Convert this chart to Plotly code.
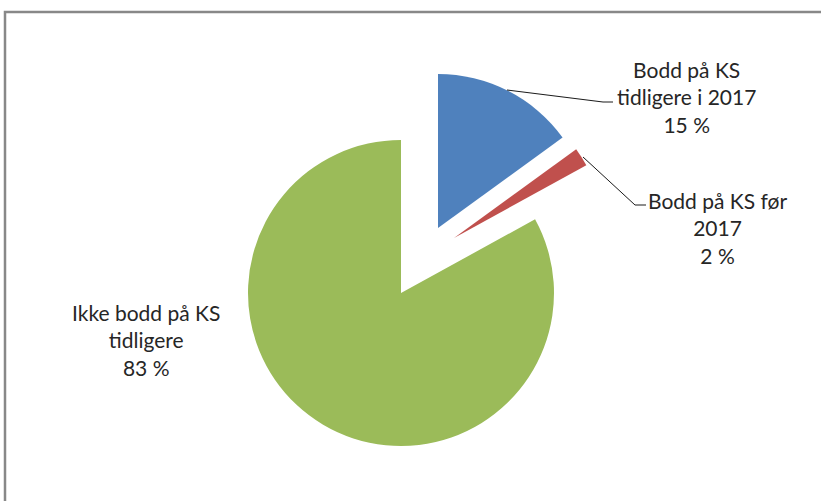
import plotly.graph_objects as go

W, H = 821, 501

labels = ["Bodd på KS tidligere i 2017", "Bodd på KS før 2017", "Ikke bodd på KS tidligere"]
values = [15, 2, 83]
colors = ["#4F81BD", "#C0504D", "#9BBB59"]
label_text = ["Bodd på KS<br>tidligere i 2017<br>15 %",
              "Bodd på KS før<br>2017<br>2 %",
              "Ikke bodd på KS<br>tidligere<br>83 %"]

# exploded slices: each slice drawn as its own pie, centre (px) and radius
centres = [(438, 228), (454, 238), (401, 293)]
radii = [154, 151, 153]


def dom(cx, cy, r):
    return dict(x=[(cx - r) / W, (cx + r) / W],
                y=[1 - (cy + r) / H, 1 - (cy - r) / H])


def px(x, y):
    return f"{x / W},{1 - y / H}"


fig = go.Figure()
for i in range(len(values)):
    cols = ["rgba(0,0,0,0)"] * len(values)
    cols[i] = colors[i]
    fig.add_trace(go.Pie(
        labels=labels, values=values, sort=False, direction="clockwise",
        rotation=0, marker=dict(colors=cols, line=dict(width=0)),
        textinfo="none", hoverinfo="skip", showlegend=False,
        domain=dom(*centres[i], radii[i])))

# label positions (px)
ann_pos = [(686, 97), (717, 228), (146, 340)]
for t, (x, y) in zip(label_text, ann_pos):
    fig.add_annotation(x=x / W, y=1 - y / H, xref="paper", yref="paper",
                       xanchor="center", yanchor="middle",
                       text=t, showarrow=False, align="center",
                       font=dict(family="Lato", size=21, color="#262626"))

# leader lines
leaders = [[(507, 90), (603, 102), (613, 102)],
           [(583, 157), (635, 205), (646, 205)]]
for pts in leaders:
    path = "M " + " L ".join(px(x, y) for x, y in pts)
    fig.add_shape(type="path", path=path, xref="paper", yref="paper",
                  line=dict(color="#1a1a1a", width=1))

# chart frame (top and left edges visible)
fig.add_shape(type="path", xref="paper", yref="paper",
              path=f"M {px(5, H)} L {px(5, 12)} L {px(W, 12)}",
              line=dict(color="#888888", width=2.5))

fig.update_layout(width=W, height=H, margin=dict(l=0, r=0, t=0, b=0),
                  paper_bgcolor="white", plot_bgcolor="white")

fig.write_html("out.html", config={"displayModeBar": False},
               post_script="document.body.style.margin='0';")
